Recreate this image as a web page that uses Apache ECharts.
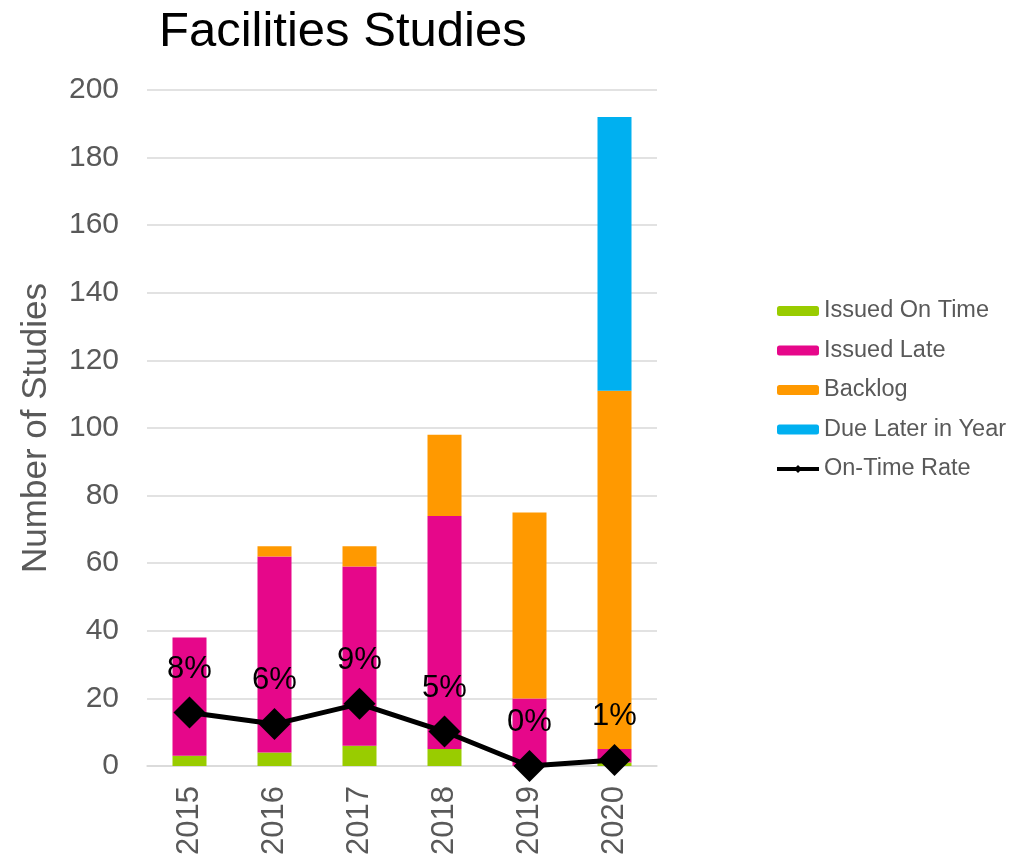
<!DOCTYPE html>
<html>
<head>
<meta charset="utf-8">
<script src="https://cdn.jsdelivr.net/npm/echarts@6/dist/echarts.min.js"></script>
<style>html,body{margin:0;padding:0;background:#fff}#c{width:1022px;height:861px}</style>
</head>
<body>
<div id="c"></div>
<script>
const years = ['2015','2016','2017','2018','2019','2020'];
const issuedOnTime = [3, 4, 6, 5, 0, 1];
const issuedLate = [35, 58, 53, 69, 20, 4];
const backlog = [0, 3, 6, 24, 55, 106];
const dueLater = [0, 0, 0, 0, 0, 81];
const onTimeRate = [7.9, 6.2, 9.2, 5.1, 0, 0.9];

const chart = echarts.init(document.getElementById('c'));
const font = 'Arial, "Liberation Sans", sans-serif';
const grey = '#595959';
const barSeries = (name, data, color) => ({
  name, type: 'bar', stack: 'total', data, barWidth: '40%',
  itemStyle: { color }, emphasis: { disabled: true }
});
chart.setOption({
  animation: false,
  textStyle: { fontFamily: font },
  title: {
    text: 'Facilities Studies', left: 154, top: 3,
    textStyle: { fontSize: 49, fontWeight: 'normal', color: '#000', fontFamily: font }
  },
  legend: {
    orient: 'vertical', left: 770, top: 294, itemGap: 15.5,
    itemWidth: 42, itemHeight: 10,
    textStyle: { fontSize: 23.5, color: grey, fontFamily: font },
    data: ['Issued On Time', 'Issued Late', 'Backlog', 'Due Later in Year',
      { name: 'On-Time Rate', lineStyle: { width: 4 }, symbolSize: 14 }]
  },
  grid: { left: 147, right: 365, top: 90, bottom: 95 },
  xAxis: {
    type: 'category', data: years,
    axisLine: { lineStyle: { color: '#d9d9d9', width: 1.5 } },
    axisTick: { show: false },
    axisLabel: { rotate: 90, margin: 20, fontSize: 31, color: grey, fontFamily: font }
  },
  yAxis: [{
    type: 'value', min: 0, max: 200, interval: 20,
    name: 'Number of Studies', nameLocation: 'middle', nameRotate: 90, nameGap: 93,
    nameTextStyle: { fontSize: 35, color: grey, fontFamily: font },
    axisLine: { show: false }, axisTick: { show: false },
    axisLabel: { margin: 28, fontSize: 30, color: grey, fontFamily: font },
    splitLine: { lineStyle: { color: '#d9d9d9', width: 1.5 } }
  }, {
    type: 'value', min: 0, max: 100, show: false, splitLine: { show: false }
  }],
  series: [
    barSeries('Issued On Time', issuedOnTime, '#99CC00'),
    barSeries('Issued Late', issuedLate, '#E6078A'),
    barSeries('Backlog', backlog, '#FF9900'),
    barSeries('Due Later in Year', dueLater, '#00B0F0'),
    {
      name: 'On-Time Rate', type: 'line', yAxisIndex: 1, data: onTimeRate,
      symbol: 'diamond', symbolSize: 32,
      lineStyle: { color: '#000', width: 5 }, itemStyle: { color: '#000' },
      label: {
        show: true, position: 'top', distance: 12,
        fontSize: 31, color: '#000', fontFamily: font,
        formatter: p => Math.round(p.value) + '%'
      },
      z: 5
    }
  ]
});
</script>
</body>
</html>
